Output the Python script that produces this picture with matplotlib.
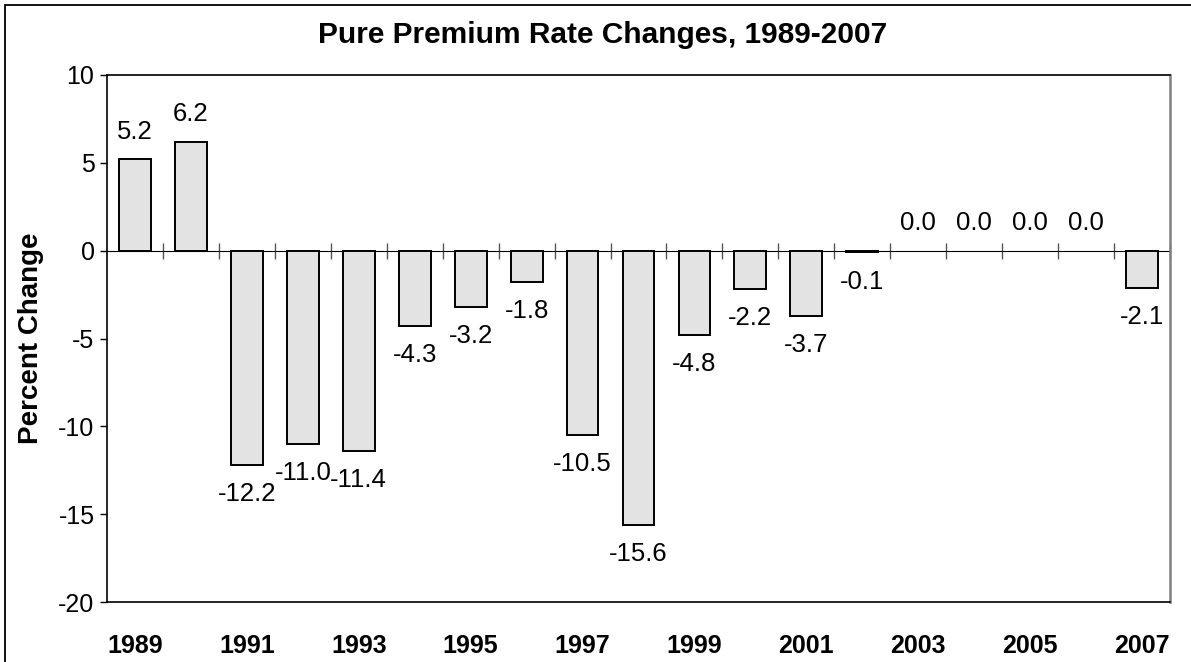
import numpy as np
import matplotlib
matplotlib.use('Agg')
import matplotlib.pyplot as plt
from matplotlib.patches import Rectangle

years = list(range(1989, 2008))
changes = [5.2, 6.2, -12.2, -11.0, -11.4, -4.3, -3.2, -1.8, -10.5, -15.6,
           -4.8, -2.2, -3.7, -0.1, 0.0, 0.0, 0.0, 0.0, -2.1]
# only every other year is labelled
year_labels = [str(y) if (y - 1989) % 2 == 0 else '' for y in years]

plt.rcParams['font.family'] = ['Liberation Sans', 'DejaVu Sans']
plt.rcParams['axes.unicode_minus'] = False

W, H = 1191, 662
fig = plt.figure(figsize=(W / 100, H / 100), dpi=100)
fig.patch.set_facecolor('white')

# outer frame (cut by the picture on the right and bottom)
fig.patches.append(Rectangle((5 / W, -0.2), 2.0, (H - 5) / H + 0.2,
                             transform=fig.transFigure, fill=False,
                             edgecolor='black', linewidth=1.3, clip_on=False))

ax = fig.add_axes([107 / W, (H - 602) / H, (1170 - 107) / W, (602 - 75) / H])
x = np.arange(len(years))
edge_w = [0 if v == 0 else 1.4 for v in changes]
ax.bar(x, changes, width=0.57, color='#e3e3e3', edgecolor='black',
       linewidth=edge_w, zorder=3)

for xi, v in zip(x, changes):
    off = 20 if v >= 0 else -21
    ax.annotate(f'{v:.1f}', (xi, v), xytext=(0, off), textcoords='offset points',
                ha='center', va='center', fontsize=18.5, zorder=4)

ax.set_xlim(-0.5, len(years) - 0.5)
ax.set_ylim(-20, 10)
ax.set_yticks([10, 5, 0, -5, -10, -15, -20])
ax.tick_params(axis='y', direction='out', length=5, width=1, pad=4, labelsize=18)
ax.set_xticks(x)
ax.set_xticklabels(year_labels, fontweight='bold', fontsize=18)
ax.tick_params(axis='x', length=0, pad=23)

for s in ['left', 'top', 'bottom']:
    ax.spines[s].set_color('black')
    ax.spines[s].set_linewidth(1.2)
ax.spines['right'].set_color('#808080')
ax.spines['right'].set_linewidth(1.8)

# zero line with category separator ticks
zero_frac = (0 - (-20)) / 30
sec = ax.secondary_xaxis(zero_frac)
sec.spines['bottom'].set_color('#555555')
sec.spines['bottom'].set_linewidth(1.2)
sec.set_zorder(2)
sec.set_xticks(x + 0.5)
sec.set_xticklabels([])
sec.tick_params(direction='inout', length=11, width=1, color='#555555')

ax.set_ylabel('Percent Change', fontweight='bold', fontsize=20, labelpad=10)

fig.text(603 / W, (H - 35) / H, 'Pure Premium Rate Changes, 1989-2007',
         ha='center', va='center', fontsize=21.5, fontweight='bold')

fig.savefig('out.png', dpi=100)
